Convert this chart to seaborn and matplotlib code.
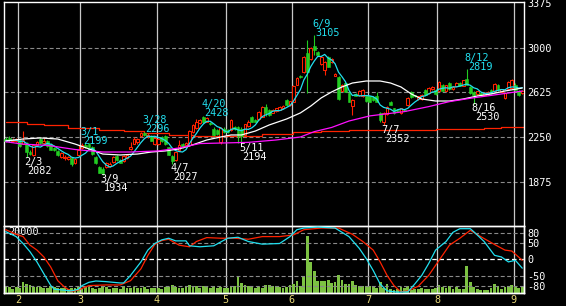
import matplotlib
matplotlib.use("Agg")
import matplotlib.pyplot as plt
import seaborn as sns
import numpy as np
import pandas as pd

# ---------------- data ----------------
month_labels = ["2", "3", "4", "5", "6", "7", "8", "9"]
month_first_idx = [4, 22, 44, 64, 83, 105, 125, 147]

opens = [
    2235, 2240, 2215, 2214, 2225, 2195, 2200, 2128, 2100, 2186,
    2236, 2200, 2214, 2190, 2160, 2130, 2080, 2070, 2064, 2070,
    2030, 2100, 2160, 2185, 2190, 2165, 2080, 2000, 1985, 2000,
    2005, 2040, 2090, 2060, 2050, 2075, 2150, 2195, 2205, 2255,
    2285, 2255, 2260, 2190, 2190, 2250, 2255, 2165, 2090, 2060,
    2140, 2190, 2180, 2183, 2292, 2326, 2368, 2418, 2380, 2370,
    2320, 2310, 2205, 2320, 2310, 2310, 2335, 2330, 2320, 2265,
    2345, 2420, 2395, 2400, 2420, 2505, 2475, 2455, 2465, 2480,
    2495, 2560, 2520, 2545, 2690, 2760, 2795, 2955, 2905, 3015,
    2965, 2865, 2815, 2920, 2880, 2765, 2755, 2640, 2700, 2620,
    2510, 2610, 2605, 2590, 2590, 2590, 2585, 2590, 2450, 2380,
    2440, 2545, 2490, 2480, 2450, 2480, 2520, 2625, 2600, 2565,
    2570, 2645, 2620, 2650, 2645, 2640, 2690, 2640, 2705, 2650,
    2680, 2705, 2680, 2740, 2670, 2630, 2610, 2620, 2600, 2610,
    2645, 2640, 2690, 2630, 2580, 2650, 2665, 2690, 2640, 2620]

highs = [
    2248, 2262, 2238, 2240, 2236, 2300, 2212, 2140, 2190, 2216,
    2246, 2240, 2222, 2200, 2170, 2140, 2126, 2096, 2090, 2080,
    2075, 2180, 2199, 2196, 2196, 2172, 2090, 2006, 1995, 2036,
    2036, 2092, 2100, 2066, 2096, 2106, 2205, 2246, 2240, 2290,
    2296, 2280, 2270, 2246, 2240, 2260, 2265, 2170, 2100, 2135,
    2225, 2200, 2210, 2305, 2360, 2400, 2400, 2428, 2415, 2378,
    2330, 2318, 2330, 2330, 2320, 2398, 2345, 2340, 2330, 2362,
    2390, 2428, 2402, 2468, 2512, 2530, 2485, 2482, 2496, 2506,
    2516, 2570, 2556, 2688, 2752, 2770, 2930, 3065, 3002, 3105,
    2975, 2926, 2886, 2930, 2910, 2786, 2762, 2696, 2708, 2626,
    2566, 2618, 2646, 2650, 2596, 2596, 2592, 2625, 2458, 2456,
    2510, 2552, 2496, 2486, 2496, 2486, 2586, 2632, 2606, 2596,
    2610, 2652, 2670, 2676, 2652, 2716, 2698, 2690, 2712, 2676,
    2710, 2712, 2730, 2819, 2676, 2636, 2640, 2626, 2626, 2636,
    2652, 2700, 2696, 2656, 2626, 2716, 2740, 2700, 2646, 2646]

lows = [
    2205, 2212, 2206, 2208, 2165, 2188, 2082, 2098, 2094, 2178,
    2194, 2194, 2168, 2138, 2130, 2090, 2074, 2060, 2054, 2010,
    2024, 2094, 2150, 2156, 2160, 2100, 2024, 1944, 1934, 1990,
    1996, 2034, 2050, 2030, 2040, 2065, 2144, 2190, 2195, 2250,
    2255, 2245, 2215, 2185, 2180, 2210, 2185, 2095, 2027, 2050,
    2130, 2160, 2175, 2178, 2285, 2320, 2360, 2370, 2372, 2348,
    2262, 2268, 2195, 2285, 2282, 2300, 2310, 2200, 2194, 2258,
    2338, 2375, 2372, 2395, 2415, 2430, 2425, 2448, 2458, 2474,
    2488, 2508, 2512, 2540, 2684, 2744, 2790, 2620, 2896, 2940,
    2930, 2858, 2770, 2835, 2872, 2758, 2560, 2632, 2625, 2540,
    2435, 2590, 2598, 2584, 2545, 2540, 2555, 2540, 2380, 2352,
    2434, 2515, 2445, 2460, 2444, 2465, 2514, 2580, 2584, 2558,
    2564, 2600, 2614, 2644, 2605, 2634, 2635, 2634, 2645, 2644,
    2674, 2675, 2674, 2685, 2612, 2530, 2604, 2594, 2594, 2604,
    2614, 2634, 2640, 2624, 2572, 2644, 2660, 2640, 2595, 2614]

closes = [
    2215, 2222, 2228, 2230, 2172, 2226, 2128, 2108, 2180, 2210,
    2200, 2215, 2175, 2145, 2138, 2100, 2115, 2086, 2080, 2020,
    2066, 2140, 2180, 2165, 2170, 2110, 2030, 1952, 1950, 2030,
    2025, 2080, 2055, 2035, 2090, 2100, 2165, 2235, 2230, 2285,
    2265, 2270, 2220, 2240, 2235, 2220, 2190, 2100, 2045, 2125,
    2180, 2170, 2200, 2300, 2351, 2376, 2393, 2376, 2410, 2355,
    2270, 2275, 2325, 2290, 2290, 2390, 2315, 2260, 2260, 2355,
    2380, 2380, 2380, 2460, 2505, 2455, 2435, 2475, 2490, 2500,
    2510, 2515, 2550, 2680, 2745, 2750, 2920, 2795, 2995, 2980,
    2940, 2920, 2880, 2840, 2905, 2780, 2565, 2690, 2630, 2545,
    2560, 2595, 2640, 2645, 2550, 2545, 2560, 2545, 2395, 2450,
    2505, 2520, 2450, 2465, 2490, 2470, 2580, 2585, 2590, 2590,
    2605, 2605, 2665, 2670, 2610, 2710, 2640, 2685, 2650, 2670,
    2705, 2680, 2725, 2690, 2620, 2600, 2635, 2600, 2620, 2630,
    2620, 2695, 2645, 2650, 2620, 2710, 2725, 2645, 2600, 2640]

volume = [
    1800, 1800, 1200, 1700, 1500, 3400, 2800, 2500, 1800, 1700,
    1700, 1600, 1400, 2200, 1900, 1400, 1400, 1400, 1300, 1400,
    1400, 1700, 1300, 1800, 1900, 1500, 1300, 1500, 2100, 1800,
    1300, 1400, 1600, 1300, 2200, 1500, 1400, 1800, 1500, 1400,
    1800, 1300, 1400, 1500, 1400, 1300, 1800, 1900, 2400, 1700,
    1500, 1600, 1800, 2300, 1900, 2100, 1600, 2200, 1700, 1500,
    2000, 1600, 1800, 1500, 1600, 2000, 2200, 5000, 3000, 2300,
    2200, 1700, 1500, 1800, 1500, 2300, 2400, 2100, 2000, 1800,
    1500, 1800, 2500, 2600, 3500, 2200, 5000, 17300, 9300, 6600,
    3700, 3700, 3500, 4000, 3000, 3200, 5500, 4000, 2800, 2800,
    3500, 2500, 2000, 2100, 2200, 2000, 1800, 1400, 3200, 1500,
    2800, 1200, 800, 1200, 1800, 1600, 2000, 1000, 1300, 1300,
    1400, 1300, 1300, 1300, 1500, 2400, 1800, 1400, 2200, 1300,
    1700, 1200, 1300, 8300, 3200, 1800, 1300, 1000, 1000, 1000,
    1500, 2800, 2000, 1300, 1800, 2000, 2400, 2000, 1500, 1700]

# medium moving average (white)
ma_mid_idx = [0, 5, 10, 15, 20, 24, 28, 33, 38, 42, 46, 50, 53, 58, 62, 65, 68, 72, 76, 81,
              85, 88, 91, 94, 97, 100, 104, 108, 111, 114, 117, 120, 124, 128, 132, 136, 140, 144, 149]
ma_mid_val = [2217, 2233, 2242, 2233, 2191, 2150, 2107, 2099, 2107, 2124, 2133, 2150, 2175, 2225,
              2250, 2267, 2267, 2300, 2351, 2401, 2452, 2510, 2578, 2628, 2670, 2703, 2720, 2720,
              2703, 2670, 2611, 2569, 2552, 2552, 2569, 2594, 2611, 2636, 2661]

# long moving average (magenta)
ma_long_idx = [0, 5, 12, 20, 28, 36, 44, 50, 56, 63, 70, 78, 85, 89, 94, 99, 105, 115, 122, 128,
               134, 141, 149]
ma_long_val = [2210, 2190, 2180, 2145, 2124, 2124, 2133, 2158, 2195, 2200, 2205, 2225, 2250, 2295,
               2330, 2384, 2427, 2463, 2505, 2547, 2575, 2603, 2636]

# weekly step line (red)
step_idx = [0, 6, 11, 18, 27, 34, 40, 47, 54, 62, 74, 83, 91, 99, 124, 138, 143, 149.5]
step_val = [2375, 2362, 2350, 2328, 2309, 2300, 2285, 2267, 2255, 2258, 2272, 2289, 2297, 2309,
            2317, 2326, 2334, 2334]

# oscillators (lower panel)
osc_fast_idx = [0, 3, 5, 7, 9, 11, 13, 14, 16, 19, 21, 22, 24, 26, 29, 33, 34, 36, 39, 41,
                43, 45, 47, 49, 52, 53, 56, 60, 64, 67, 70, 74, 79, 82, 84, 86, 90, 95, 99, 102,
                104, 106, 108, 110, 113, 116, 118, 120, 122, 124, 127, 129, 131, 134, 135, 138,
                141, 143, 145, 147, 149]
osc_fast_val = [84, 69, 48, 23, -8, -44, -80, -91, -93, -96, -91, -80, -70, -66, -68, -72, -72,
                -49, -8, 28, 48, 59, 64, 56, 56, 41, 38, 41, 64, 67, 54, 46, 48, 69, 90, 95, 98,
                95, 69, 33, 2, -34, -75, -96, -100, -99, -75, -49, -13, 28, 54, 82, 93, 93, 84,
                54, 12, 7, -8, -3, -27]
osc_slow_idx = [0, 3, 5, 7, 9, 11, 13, 15, 17, 19, 21, 24, 29, 33, 36, 39, 41, 43, 45, 47,
                50, 53, 55, 58, 62, 66, 70, 74, 79, 83, 86, 91, 96, 100, 103, 106, 108, 110, 112,
                114, 116, 119, 122, 125, 128, 131, 134, 137, 141, 144, 146, 149]
osc_slow_val = [90, 76, 69, 43, 28, 7, -24, -65, -85, -98, -93, -80, -78, -78, -65, -29, 12, 45,
                57, 61, 43, 38, 54, 66, 64, 64, 61, 69, 69, 74, 90, 95, 95, 76, 54, 28, -8, -49,
                -80, -99, -96, -82, -49, -3, 43, 64, 88, 69, 45, 28, 25, -3]

price_ticks = [3375, 3000, 2625, 2250, 1875]
price_grid = [3000, 2625, 2250, 1875]
osc_ticks = [80, 50, 0, -50, -80]
volume_scale_label = "20000"

high_marks = [("3/1", 22, 2199), ("3/28", 40, 2296), ("4/20", 57, 2428),
              ("6/9", 89, 3105), ("8/12", 133, 2819)]
low_marks = [("2/3", 6, 2082), ("3/9", 28, 1934), ("4/7", 48, 2027),
             ("5/11", 68, 2194), ("7/7", 109, 2352), ("8/16", 135, 2530)]

# ---------------- style ----------------
sns.set_style("dark", {"axes.facecolor": "black", "figure.facecolor": "black"})
plt.rcParams["font.family"] = ["DejaVu Sans Mono", "DejaVu Sans"]

RED = "#ff2200"
GREEN = "#22cc22"
CYAN = "#22e0f0"
MAGENTA = "#ff10ff"
VOLC = "#7cc242"
YELLOW = "#e8d878"
GRID = "#8a8a8a"
VLINE = "#c8c8c8"
FS = 7.3

W, H = 566, 306
fig = plt.figure(figsize=(W / 100, H / 100), dpi=100, facecolor="black")


def rect(l, t, r, b):
    return [l / W, 1 - b / H, (r - l) / W, (b - t) / H]


ax = fig.add_axes(rect(4, 2, 524, 226))
axv = fig.add_axes(rect(4, 226, 524, 293))
axo = axv.twinx()

n = len(closes)
idx = np.arange(n)
o = np.array(opens, float)
c = np.array(closes, float)
h = np.array(highs, float)
l = np.array(lows, float)
up = c >= o

# ---------- main panel ----------
ax.set_facecolor("black")
for t in price_grid:
    ax.axhline(t, color=GRID, lw=0.8, ls=(0, (3.6, 2.2)), zorder=1)
for m in month_first_idx:
    ax.axvline(m - 0.5, color=VLINE, lw=0.9, zorder=1)

sns.lineplot(x=step_idx, y=step_val, ax=ax, color=RED, linewidth=0.9,
             drawstyle="steps-post", zorder=2)

ax.vlines(idx, l, h, colors=np.where(up, RED, GREEN), lw=0.8, zorder=3)
bb = np.minimum(o, c)
bh = np.maximum(np.abs(c - o), 4)
ax.bar(idx[up], bh[up], bottom=bb[up], width=0.82, facecolor="black",
       edgecolor=RED, linewidth=0.75, zorder=4)
ax.bar(idx[~up], bh[~up], bottom=bb[~up], width=0.82, facecolor=GREEN,
       edgecolor=GREEN, linewidth=0.4, zorder=4)

df = pd.DataFrame({"i": idx, "close": closes})
df["ma_short"] = df["close"].rolling(5, min_periods=1).mean()
sns.lineplot(data=df, x="i", y="ma_short", ax=ax, color=CYAN, linewidth=0.9, zorder=5)
sns.lineplot(x=ma_mid_idx, y=ma_mid_val, ax=ax, color="white", linewidth=0.9, zorder=5)
sns.lineplot(x=ma_long_idx, y=ma_long_val, ax=ax, color=MAGENTA, linewidth=0.9, zorder=5)

for lab, i, v in high_marks:
    ax.annotate(lab, xy=(i, v), xytext=(-1.4, 6.0), textcoords="offset points",
                color=CYAN, fontsize=FS, ha="left", va="baseline", zorder=6)
    ax.annotate(str(v), xy=(i, v), xytext=(0.8, -0.5), textcoords="offset points",
                color=CYAN, fontsize=FS, ha="left", va="baseline", zorder=6)
for lab, i, v in low_marks:
    ax.annotate(lab, xy=(i, v), xytext=(-1.4, -5.6), textcoords="offset points",
                color="white", fontsize=FS, ha="left", va="baseline", zorder=6)
    ax.annotate(str(v), xy=(i, v), xytext=(0.8, -12.1), textcoords="offset points",
                color="white", fontsize=FS, ha="left", va="baseline", zorder=6)

ax.set_xlim(-0.5, n - 0.5)
ax.set_ylim(1503, 3383)
ax.set_xticks([])
ax.set_yticks(price_ticks)
ax.set_yticklabels([str(t) for t in price_ticks])
ax.yaxis.tick_right()
ax.tick_params(axis="y", length=0, pad=2.5, labelcolor="white", labelsize=FS)
ax.set_xlabel("")
ax.set_ylabel("")
ax.grid(False)
for s in ["top", "left", "right"]:
    ax.spines[s].set_visible(True)
    ax.spines[s].set_color("white")
    ax.spines[s].set_linewidth(1.0)
ax.spines["bottom"].set_visible(False)

# ---------- lower panel ----------
axv.set_facecolor("black")
for m in month_first_idx:
    axv.axvline(m - 0.5, color=VLINE, lw=0.9, zorder=1)
axv.bar(idx, volume, width=0.82, color=VOLC, linewidth=0, zorder=2)
axv.set_ylim(0, 20300)
axv.set_xlim(-0.5, n - 0.5)
axv.set_yticks([])
axv.set_xticks([m - 0.5 for m in month_first_idx])
axv.set_xticklabels(month_labels)
axv.tick_params(axis="x", length=0, pad=1.5, labelcolor=YELLOW, labelsize=FS)
axv.grid(False)
axv.text(0.008, 0.99, volume_scale_label, transform=axv.transAxes, ha="left", va="top",
         color="white", fontsize=FS, zorder=6)

for t in osc_ticks:
    axo.axhline(t, color=("white" if t == 0 else GRID), lw=0.9 if t == 0 else 0.8,
                ls=(0, (3.6, 2.2)), zorder=1)
sns.lineplot(x=osc_slow_idx, y=osc_slow_val, ax=axo, color=RED, linewidth=0.9, zorder=3)
sns.lineplot(x=osc_fast_idx, y=osc_fast_val, ax=axo, color=CYAN, linewidth=0.9, zorder=3)
axo.set_ylim(-102.5, 101.2)
axo.set_xlim(-0.5, n - 0.5)
axo.set_yticks(osc_ticks)
axo.set_yticklabels([str(t) for t in osc_ticks])
axo.tick_params(axis="y", length=0, pad=2.5, labelcolor="white", labelsize=FS)
axo.set_ylabel("")
axo.grid(False)
for a in (axv, axo):
    a.set_xlabel("")
    a.set_ylabel("")
    for s in ["top", "left", "right", "bottom"]:
        a.spines[s].set_visible(True)
        a.spines[s].set_color("white")
        a.spines[s].set_linewidth(1.0)

fig.savefig("out.png", dpi=100, facecolor="black")
